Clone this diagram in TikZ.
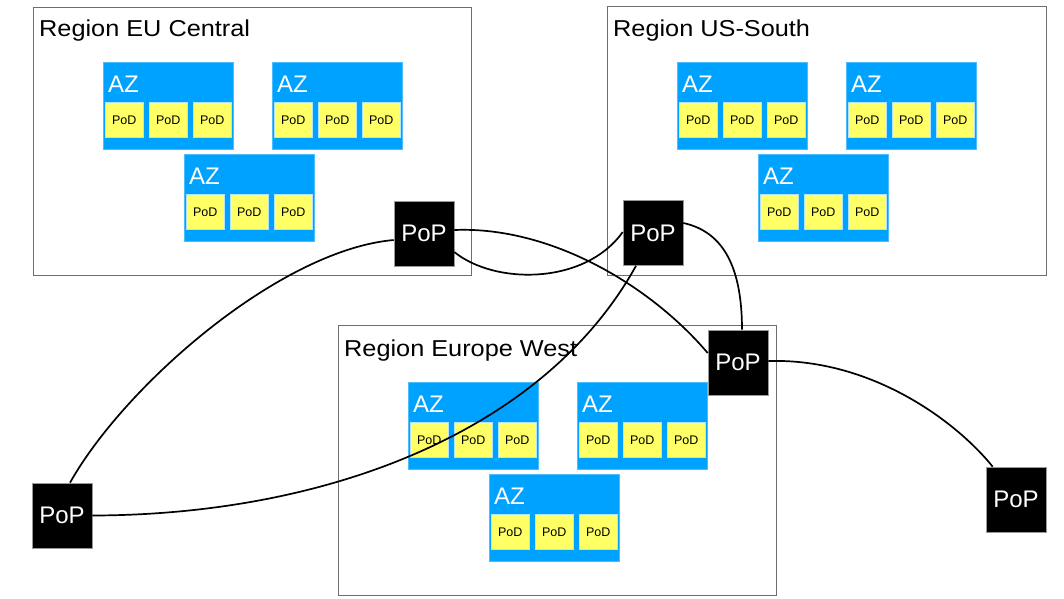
\documentclass[tikz,border=0pt]{standalone}
\usepackage{fontspec}
\setmainfont{Liberation Sans}
\newfontfamily\regionfont[FakeStretch=1.1]{Liberation Sans}
\definecolor{azblue}{RGB}{0,162,255}
\definecolor{podyellow}{RGB}{255,255,102}
\definecolor{regiongray}{RGB}{110,110,110}
\tikzset{
  regionbox/.style={draw=regiongray, line width=1.3pt, fill=white, inner sep=0pt, anchor=north west},
  regionlabel/.style={anchor=base west, inner sep=0pt, font=\regionfont\fontsize{23}{23}\selectfont, text=black},
  azbox/.style={fill=azblue, draw=azblue!70!white, line width=0.6pt, minimum width=130pt, minimum height=87pt, inner sep=0pt, anchor=north west},
  azlabel/.style={anchor=base west, inner sep=0pt, text=white, font=\fontsize{24}{24}\selectfont},
  podbox/.style={fill=podyellow, draw=azblue!30!white, line width=0.6pt, minimum width=38pt, minimum height=35pt, inner sep=0pt, anchor=north west, font=\fontsize{12.5}{12.5}\selectfont, text=black},
  popbox/.style={fill=black, draw=black!40, line width=0.6pt, minimum width=60pt, minimum height=65pt, inner sep=0pt, text=white, font=\fontsize{24}{24}\selectfont},
  link/.style={draw=black, line width=1.7pt},
}
\newcommand\AZgroup[3]{%
  \node[azbox] (#1) at (#2,#3) {};
  \node[azlabel] (#1-l) at ([xshift=5pt,yshift=-30pt]#1.north west) {AZ};
  \node[podbox] (#1-p1) at ([xshift=2pt,yshift=-40pt]#1.north west) {PoD};
  \node[podbox] (#1-p2) at ([xshift=46pt,yshift=-40pt]#1.north west) {PoD};
  \node[podbox] (#1-p3) at ([xshift=90pt,yshift=-40pt]#1.north west) {PoD};
}
\begin{document}
\begin{tikzpicture}[x=1pt,y=-1pt]
\useasboundingbox (0,0) rectangle (1064,598);
% regions
\node[regionbox, minimum width=438pt, minimum height=268pt] (eu) at (33,7) {};
\node[regionlabel] (eu-l) at (39,36) {Region EU Central};
\node[regionbox, minimum width=439pt, minimum height=269pt] (us) at (607,6) {};
\node[regionlabel] (us-l) at (613,36) {Region US-South};
\node[regionbox, minimum width=438pt, minimum height=270pt] (ew) at (338,325) {};
\node[regionlabel] (ew-l) at (344,356) {Region Europe West};
% availability zones
\AZgroup{eua}{103}{62}
\AZgroup{eub}{272}{62}
\AZgroup{euc}{184}{154}
\AZgroup{usa}{677}{62}
\AZgroup{usb}{846}{62}
\AZgroup{usc}{758}{154}
\AZgroup{ewa}{408}{382}
\AZgroup{ewb}{577}{382}
\AZgroup{ewc}{489}{474}
% points of presence
\node[popbox] (eupop) at (424,233.5) {PoP};
\node[popbox] (uspop) at (653,233) {PoP};
\node[popbox] (midpop) at (738,362.5) {PoP};
\node[popbox] (leftpop) at (62,515.5) {PoP};
\node[popbox] (rightpop) at (1016,499.5) {PoP};
% links
\draw[link] ([yshift=3.5pt]eupop.east) .. controls (550,226) and (650,285) .. ([yshift=9.5pt]midpop.west);
\draw[link] ([yshift=-18.5pt]eupop.east) .. controls (495,285) and (585,285) .. ([yshift=1pt]uspop.west);
\draw[link] ([yshift=10pt]uspop.east) .. controls (725,232) and (742,270) .. ([xshift=4pt]midpop.north);
\draw[link] ([xshift=8pt]leftpop.north) .. controls (125,385) and (280,250) .. ([yshift=-6.5pt]eupop.west);
\draw[link] (leftpop.east) .. controls (330,515) and (545,430) .. ([xshift=-17pt]uspop.south);
\draw[link] ([yshift=1.5pt]midpop.east) .. controls (870,358) and (955,420) .. ([xshift=7pt]rightpop.north west);
\end{tikzpicture}
\end{document}
